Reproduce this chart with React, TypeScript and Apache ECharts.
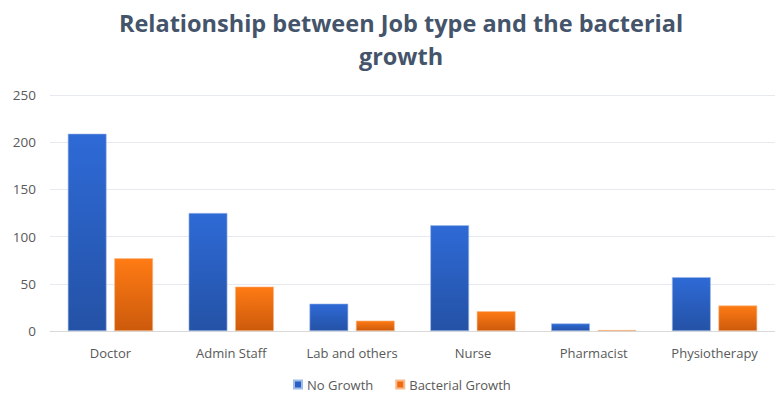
import React, { useEffect, useRef } from "react";
import * as echarts from "echarts";

const categories = ["Doctor", "Admin Staff", "Lab and others", "Nurse", "Pharmacist", "Physiotherapy"];
const noGrowth = [209, 125, 29, 112, 8, 57];
const bacterialGrowth = [77, 47, 11, 21, 1, 27];
const titleText = "Relationship between Job type and the bacterial\ngrowth";

export default function App() {
  const ref = useRef<HTMLDivElement>(null);
  useEffect(() => {
    document.body.style.margin = "0";
    const chart = echarts.init(ref.current!, null, { renderer: "svg" });
    const font = "'Open Sans', sans-serif";
    chart.setOption({
      animation: false,
      backgroundColor: "#ffffff",
      graphic: [
        {
          type: "text",
          x: 401,
          y: 6,
          style: {
            text: titleText,
            textAlign: "center",
            textVerticalAlign: "top",
            fontFamily: font,
            fontSize: 23.5,
            fontWeight: "bold",
            fill: "#44546a",
            lineHeight: 33,
          },
        },
      ],
      legend: {
        bottom: 3,
        left: 288,
        itemWidth: 8,
        itemHeight: 8,
        itemGap: 22,
        textStyle: { fontFamily: font, fontSize: 13, color: "#595959" },
        data: [
          { name: "No Growth", icon: "rect", itemStyle: { color: "#2a5fc4" } },
          { name: "Bacterial Growth", icon: "rect", itemStyle: { color: "#f06a10" } },
        ],
      },
      grid: { left: 50, right: -7, top: 95, bottom: 68, containLabel: false },
      xAxis: {
        type: "category",
        data: categories,
        axisLine: { lineStyle: { color: "#d9d9d9" } },
        axisTick: { show: false },
        axisLabel: { interval: 0, fontFamily: font, fontSize: 13, color: "#595959", margin: 15 },
      },
      yAxis: {
        type: "value",
        min: 0,
        max: 250,
        interval: 50,
        axisLine: { show: false },
        axisTick: { show: false },
        splitLine: { lineStyle: { color: "#e6e9ef" } },
        axisLabel: { fontFamily: font, fontSize: 13.5, color: "#595959", margin: 14 },
      },
      series: [
        {
          name: "No Growth",
          type: "bar",
          data: noGrowth,
          barGap: "20%",
          barCategoryGap: "29.5%",
          itemStyle: {
            borderColor: "#9fbbe8",
            borderWidth: 0.6,
            color: new echarts.graphic.LinearGradient(0, 0, 0, 1, [
              { offset: 0, color: "#2e6ad6" },
              { offset: 1, color: "#2452a6" },
            ]),
          },
        },
        {
          name: "Bacterial Growth",
          type: "bar",
          data: bacterialGrowth,
          itemStyle: {
            borderColor: "#f7b98a",
            borderWidth: 0.6,
            color: new echarts.graphic.LinearGradient(0, 0, 0, 1, [
              { offset: 0, color: "#ff7b14" },
              { offset: 1, color: "#cc5a0c" },
            ]),
          },
        },
      ],
    });
    return () => chart.dispose();
  }, []);
  return <div ref={ref} style={{ width: 775, height: 399 }} />;
}
